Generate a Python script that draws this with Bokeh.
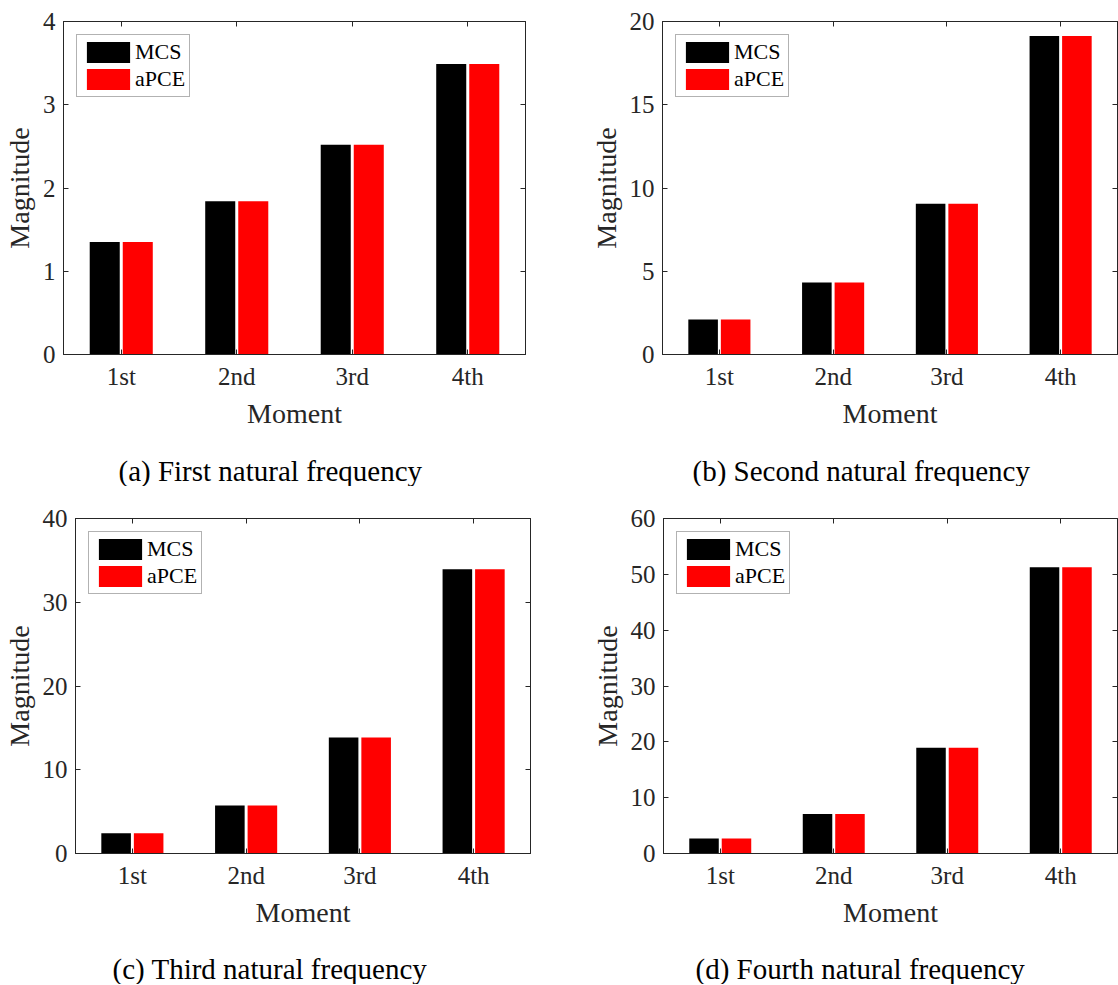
from bokeh.plotting import figure
from bokeh.models import (FactorRange, Range1d, LinearAxis, CategoricalAxis, FixedTicker,
                          Title, ColumnDataSource, CustomLabelingPolicy)
from bokeh.transform import dodge
from bokeh.layouts import column, row
from bokeh.embed import file_html
from bokeh.resources import INLINE

# ---------------- data ----------------
moments = ["1st", "2nd", "3rd", "4th"]
series_names = ["MCS", "aPCE"]

f1_mcs = [1.35, 1.84, 2.52, 3.49]
f1_apce = [1.35, 1.84, 2.52, 3.49]
f1_ticks = [0, 1, 2, 3, 4]

f2_mcs = [2.10, 4.33, 9.05, 19.13]
f2_apce = [2.10, 4.33, 9.05, 19.13]
f2_ticks = [0, 5, 10, 15, 20]

f3_mcs = [2.41, 5.74, 13.85, 33.95]
f3_apce = [2.41, 5.74, 13.85, 33.95]
f3_ticks = [0, 10, 20, 30, 40]

f4_mcs = [2.67, 7.06, 18.93, 51.28]
f4_apce = [2.67, 7.06, 18.93, 51.28]
f4_ticks = [0, 10, 20, 30, 40, 50, 60]

captions = ["(a) First natural frequency", "(b) Second natural frequency",
            "(c) Third natural frequency", "(d) Fourth natural frequency"]

AX = "#262626"
SERIF = "Liberation Serif"

no_labels = "for (let i = 0; i < indices.size; i++) { indices.unset(i) } return indices"


def hide_labels(ax):
    ax.major_label_text_font_size = "0px"
    ax.major_label_policy = CustomLabelingPolicy(code=no_labels)
    ax.major_label_standoff = 0
    ax.axis_label = None


def make_panel(mcs, apce, yticks, caption, cap_x, gap, width, height, bl, br, bt, bb):
    src = ColumnDataSource(dict(moment=moments, mcs=mcs, apce=apce))
    p = figure(x_range=FactorRange(factors=moments), y_range=Range1d(yticks[0], yticks[-1]),
               width=width, height=height, output_backend="svg", toolbar_location=None,
               min_border_left=bl, min_border_right=br, min_border_top=bt, min_border_bottom=bb,
               x_axis_label="Moment", y_axis_label="Magnitude")
    p.vbar(x=dodge("moment", -0.143, range=p.x_range), top="mcs", width=0.26, source=src,
           fill_color="#000000", line_color=None, legend_label=series_names[0])
    p.vbar(x=dodge("moment", 0.143, range=p.x_range), top="apce", width=0.26, source=src,
           fill_color="#FF0000", line_color=None, legend_label=series_names[1])

    p.xgrid.visible = False
    p.ygrid.visible = False
    p.outline_line_color = AX
    p.outline_line_width = 1
    p.background_fill_color = "white"
    p.border_fill_color = "white"

    # right and top axes for MATLAB-style box ticks
    p.add_layout(LinearAxis(), "right")
    p.add_layout(CategoricalAxis(), "above")

    p.yaxis.ticker = FixedTicker(ticks=yticks)
    for ax in p.axis:
        ax.major_tick_in = 5
        ax.major_tick_out = 0
        ax.minor_tick_line_color = None
        ax.major_tick_line_color = AX
        ax.axis_line_color = AX
        ax.major_label_text_font = SERIF
        ax.major_label_text_font_size = "25px"
        ax.major_label_text_color = AX
        ax.axis_label_text_font = SERIF
        ax.axis_label_text_font_size = "28px"
        ax.axis_label_text_font_style = "normal"
        ax.axis_label_text_color = AX
        ax.major_label_standoff = 8
        ax.axis_label_standoff = 5
    p.xaxis[0].axis_label_standoff = 1
    for ax in (p.right[0], p.above[0]):
        hide_labels(ax)

    # invisible spacer between the x axis and the caption
    spacer = CategoricalAxis()
    hide_labels(spacer)
    spacer.axis_line_color = None
    spacer.major_tick_line_color = None
    spacer.minor_tick_line_color = None
    spacer.major_tick_in = 0
    spacer.major_tick_out = gap
    p.add_layout(spacer, "below")

    lg = p.legend[0]
    lg.location = "top_left"
    lg.margin = 13
    lg.padding = 4
    lg.spacing = 1
    lg.glyph_width = 54
    lg.glyph_height = 26
    lg.label_standoff = 0
    lg.label_text_font = SERIF
    lg.label_text_font_size = "22px"
    lg.label_text_color = "#000000"
    lg.border_line_color = "#666666"
    lg.border_line_width = 1
    lg.background_fill_alpha = 1

    t = Title(text=caption, align="left", offset=cap_x, text_font=SERIF,
              text_font_size="29px", text_font_style="normal", text_color="#000000", standoff=0)
    p.add_layout(t, "below")
    return p


p1 = make_panel(f1_mcs, f1_apce, f1_ticks, captions[0], 55, 21, 558, 486, 62, 33, 21, 130)
p2 = make_panel(f2_mcs, f2_apce, f2_ticks, captions[1], 30, 21, 560, 486, 104, 1, 21, 130)
p3 = make_panel(f3_mcs, f3_apce, f3_ticks, captions[2], 37, 20, 558, 498, 70, 28, 32, 129)
p4 = make_panel(f4_mcs, f4_apce, f4_ticks, captions[3], 32, 20, 560, 498, 105, 1, 32, 129)

layout = column(row(p1, p2), row(p3, p4))

open("out.html", "w").write(file_html(layout, INLINE))
